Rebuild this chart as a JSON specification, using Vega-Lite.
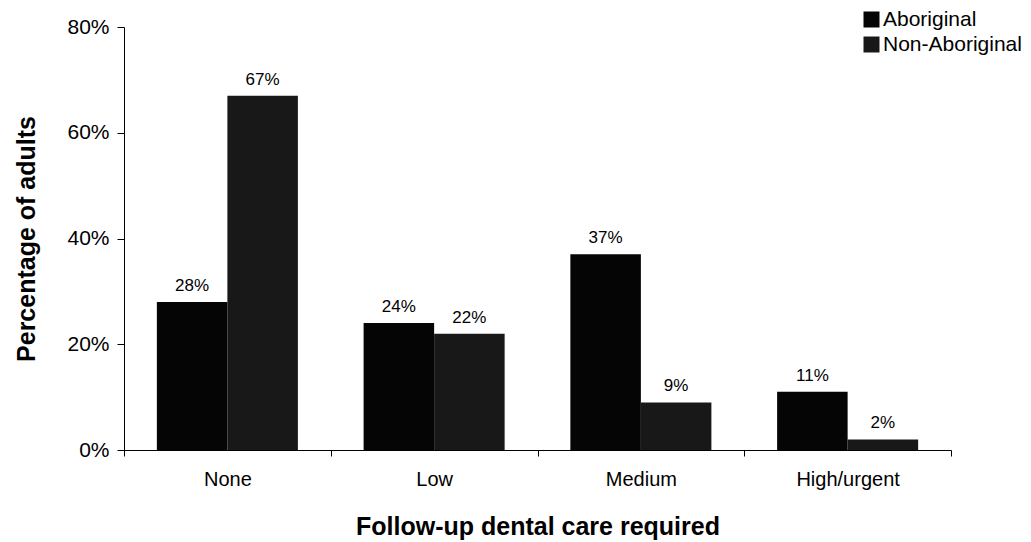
{
  "$schema": "https://vega.github.io/schema/vega-lite/v6.json",
  "autosize": "none",
  "width": 827,
  "height": 423,
  "padding": {"left": 124, "top": 27, "right": 80, "bottom": 92},
  "background": "white",
  "config": {
    "font": "Liberation Sans",
    "view": {"stroke": null},
    "axis": {"domainColor": "black", "tickColor": "black", "labelColor": "black", "titleColor": "black", "grid": false, "labelFont": "Liberation Sans", "titleFont": "Liberation Sans"}
  },
  "data": {
    "values": [
      {"care": "None", "group": "Aboriginal", "pct": 0.28},
      {"care": "None", "group": "Non-Aboriginal", "pct": 0.67},
      {"care": "Low", "group": "Aboriginal", "pct": 0.24},
      {"care": "Low", "group": "Non-Aboriginal", "pct": 0.22},
      {"care": "Medium", "group": "Aboriginal", "pct": 0.37},
      {"care": "Medium", "group": "Non-Aboriginal", "pct": 0.09},
      {"care": "High/urgent", "group": "Aboriginal", "pct": 0.11},
      {"care": "High/urgent", "group": "Non-Aboriginal", "pct": 0.02}
    ]
  },
  "encoding": {
    "x": {
      "field": "care", "type": "nominal",
      "sort": ["None", "Low", "Medium", "High/urgent"],
      "scale": {"paddingInner": 0, "paddingOuter": 0},
      "axis": {
        "title": "Follow-up dental care required",
        "labelAngle": 0, "labelFontSize": 20, "labelPadding": 13,
        "tickBand": "extent", "tickSize": 6,
        "titleFontSize": 25, "titleFontWeight": "bold", "titlePadding": 25
      }
    },
    "xOffset": {
      "field": "group", "type": "nominal",
      "sort": ["Aboriginal", "Non-Aboriginal"],
      "scale": {"paddingInner": 0, "paddingOuter": 0.466}
    },
    "y": {
      "field": "pct", "type": "quantitative",
      "scale": {"domain": [0, 0.8], "nice": false},
      "axis": {
        "title": "Percentage of adults", "format": ".0%",
        "values": [0, 0.2, 0.4, 0.6, 0.8],
        "labelFontSize": 21, "labelPadding": 8, "tickSize": 7,
        "titleFontSize": 25, "titleFontWeight": "bold", "titlePadding": 27
      }
    }
  },
  "layer": [
    {
      "mark": {"type": "bar"},
      "encoding": {
        "color": {
          "field": "group", "type": "nominal",
          "scale": {"domain": ["Aboriginal", "Non-Aboriginal"], "range": ["#050505", "#181818"]},
          "legend": {
            "title": null, "orient": "none", "legendX": 737, "legendY": -18,
            "symbolType": "square", "symbolSize": 256, "symbolStrokeWidth": 0,
            "labelFontSize": 21, "labelColor": "black", "labelOffset": 1,
            "rowPadding": 3, "padding": 0
          }
        }
      }
    },
    {
      "mark": {"type": "text", "baseline": "alphabetic", "dy": -11, "fontSize": 17, "color": "black"},
      "encoding": {
        "text": {"field": "pct", "type": "quantitative", "format": ".0%"}
      }
    }
  ]
}
